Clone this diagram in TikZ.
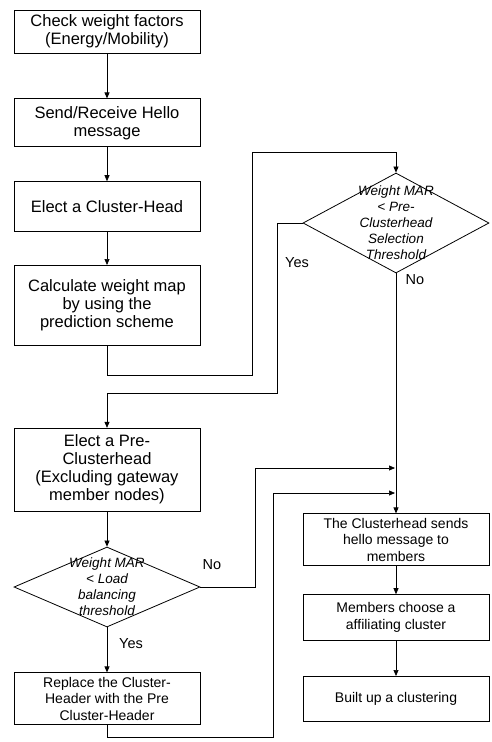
\documentclass[tikz,border=0pt]{standalone}
\usepackage{fontspec}
\setmainfont{Liberation Sans}
\usetikzlibrary{positioning,shapes.geometric,arrows.meta}

\begin{document}
\begin{tikzpicture}[x=1pt,y=1pt,
    box/.style={draw,line width=0.8pt,minimum width=186pt,inner sep=2pt,align=center,
      font=\fontsize{16.5}{18}\selectfont},
    sbox/.style={box,font=\fontsize{14}{16.5}\selectfont},
    dec/.style={draw,diamond,line width=0.8pt,minimum width=186pt,inner sep=0pt},
    dtext/.style={align=center,font=\fontsize{13.5}{16}\selectfont\itshape},
    lbl/.style={font=\fontsize{14.5}{16}\selectfont},
    arr/.style={line width=0.7pt,-{Triangle[length=6pt,width=5pt]}}]
\useasboundingbox (0,0) rectangle (492,-742);
% left column
\node[box,minimum height=43pt] (b1) at (107,-31.5) {Check weight factors\\(Energy/Mobility)};
\node[box,minimum height=48pt,below=45pt of b1] (b2) {Send/Receive Hello\\message};
\node[box,minimum height=50pt,below=34pt of b2] (b3) {Elect a Cluster-Head};
\node[box,minimum height=80pt,below=33pt of b3] (b4) {Calculate weight map\\by using the\\prediction scheme};
\node[box,minimum height=83pt,below=82pt of b4] (b5) {Elect a Pre-\\Clusterhead\\(Excluding gateway\\member nodes)};
\node[dec,minimum height=80pt,below=35pt of b5] (d2) {};
\node[dtext] (d2t) at (d2) {Weight MAR\\< Load\\balancing\\threshold};
\node[sbox,minimum height=52pt,below=45pt of d2] (b6) {Replace the Cluster-\\Header with the Pre\\Cluster-Header};
% right column
\node[dec,minimum height=100pt] (d1) at (396,-223) {};
\node[dtext] (d1t) at (d1) {Weight MAR\\< Pre-\\Clusterhead\\Selection\\Threshold};
\node[sbox,minimum height=52pt,below=240pt of d1] (b7) {The Clusterhead sends\\hello message to\\members};
\node[sbox,minimum height=46pt,below=28pt of b7] (b8) {Members choose a\\affiliating cluster};
\node[sbox,minimum height=45pt,below=35pt of b8] (b9) {Built up a clustering};
% labels
\node[lbl] (y1) at (297,-263) {Yes};
\node[lbl] (n1) at (415,-280) {No};
\node[lbl] (n2) at (212,-565) {No};
\node[lbl] (y2) at (131,-644) {Yes};
\coordinate (m1) at (395,-468);
\coordinate (m2) at (395,-493);
% connectors
\draw[arr] (b1) -- (b2);
\draw[arr] (b2) -- (b3);
\draw[arr] (b3) -- (b4);
\draw[arr] (b4.south) |- (252,-375) |- (396,-152) -- (d1.north);
\draw[arr] (d1.west) -| (277,-393) -| (b5.north);
\draw[arr] (d1) -- (b7);
\draw[arr] (b5) -- (d2);
\draw[arr] (d2) -- (b6);
\draw[arr] (d2.east) -| (255,-468) -- (m1);
\draw[arr] (b6.south) |- (273,-737) |- (m2);
\draw[arr] (b7) -- (b8);
\draw[arr] (b8) -- (b9);
\end{tikzpicture}
\end{document}
